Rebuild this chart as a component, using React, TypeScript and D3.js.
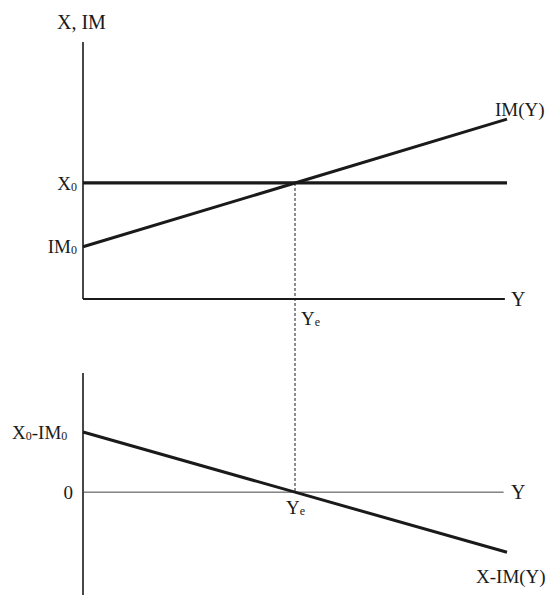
import React from "react";
import * as d3 from "d3";

// income levels on the horizontal axis
const incomeY = [0, 5, 10];
// exports are autonomous
const exportLevel = [4, 4, 4];
// imports rise with income
const importValues = [1.8, 4, 6.2];
// net exports X - IM(Y)
const netExports = [2.2, 0, -2.2];
const equilibriumY = 5;

const W = 551;
const H = 595;
const FONT = "Liberation Serif, Times New Roman, serif";
const INK = "#1a1a1a";
const FS = 19;
const SUB = 12;

const x = d3.scaleLinear().domain([0, 10]).range([83, 507]);
const yTop = d3.scaleLinear().domain([0, 8.86]).range([299, 42]);
const yBot = d3.scaleLinear().domain([-3.8, 4.36]).range([596, 373]);

type Pt = [number, number];

function Sub({ main, sub, ...rest }: any) {
    return (
        <text fontFamily={FONT} fontSize={FS} fill={INK} {...rest}>
            {main}
            <tspan fontSize={SUB} dy={1}>{sub}</tspan>
        </text>
    );
}

export default function App() {
    const topLine = d3.line<Pt>().x((d) => x(d[0])).y((d) => yTop(d[1]));
    const botLine = d3.line<Pt>().x((d) => x(d[0])).y((d) => yBot(d[1]));

    const xLine: Pt[] = incomeY.map((v, i) => [v, exportLevel[i]]);
    const imLine: Pt[] = incomeY.map((v, i) => [v, importValues[i]]);
    const nxLine: Pt[] = incomeY.map((v, i) => [v, netExports[i]]);

    const xe = x(equilibriumY);

    return (
        <svg width={W} height={H} style={{ position: "absolute", left: 0, top: 0, background: "#fff" }}>
            {/* top panel axes */}
            <line x1={x(0)} x2={x(0)} y1={yTop(8.86)} y2={yTop(0)} stroke={INK} strokeWidth={1.6} />
            <line x1={x(0)} x2={x(9.95)} y1={yTop(0)} y2={yTop(0)} stroke={INK} strokeWidth={2} />

            {/* dashed guide at equilibrium */}
            <line x1={xe} x2={xe} y1={yTop(exportLevel[1])} y2={yBot(0)} stroke={INK} strokeWidth={1} strokeDasharray="3,2" />

            <path d={topLine(xLine) ?? ""} fill="none" stroke={INK} strokeWidth={3.2} />
            <path d={topLine(imLine) ?? ""} fill="none" stroke={INK} strokeWidth={3} />

            <text x={57} y={29} fontFamily={FONT} fontSize={20} fill={INK}>X, IM</text>
            <Sub main="X" sub="0" x={77} y={190} textAnchor="end" />
            <Sub main="IM" sub="0" x={77} y={253} textAnchor="end" />
            <text x={495} y={116} fontFamily={FONT} fontSize={FS} fill={INK}>IM(Y)</text>
            <text x={511} y={306} fontFamily={FONT} fontSize={20} fill={INK}>Y</text>
            <Sub main="Y" sub="e" x={301} y={325} />

            {/* bottom panel axes */}
            <line x1={x(0)} x2={x(9.92)} y1={yBot(4.36)} y2={yBot(4.36)} stroke="none" />
            <line x1={x(0)} x2={x(0)} y1={yBot(4.36)} y2={H} stroke={INK} strokeWidth={1.6} />
            <line x1={x(0)} x2={x(9.92)} y1={yBot(0)} y2={yBot(0)} stroke="#444" strokeWidth={1} />

            <path d={botLine(nxLine) ?? ""} fill="none" stroke={INK} strokeWidth={3} />

            <text x={12} y={439} fontFamily={FONT} fontSize={FS} fill={INK}>
                X<tspan fontSize={SUB} dy={1}>0</tspan>
                <tspan dy={-1}>-IM</tspan>
                <tspan fontSize={SUB} dy={1}>0</tspan>
            </text>
            <text x={73} y={499} textAnchor="end" fontFamily={FONT} fontSize={FS} fill={INK}>0</text>
            <text x={511} y={499} fontFamily={FONT} fontSize={20} fill={INK}>Y</text>
            <Sub main="Y" sub="e" x={286} y={514} />
            <text x={476} y={583} fontFamily={FONT} fontSize={FS} fill={INK}>X-IM(Y)</text>
        </svg>
    );
}
